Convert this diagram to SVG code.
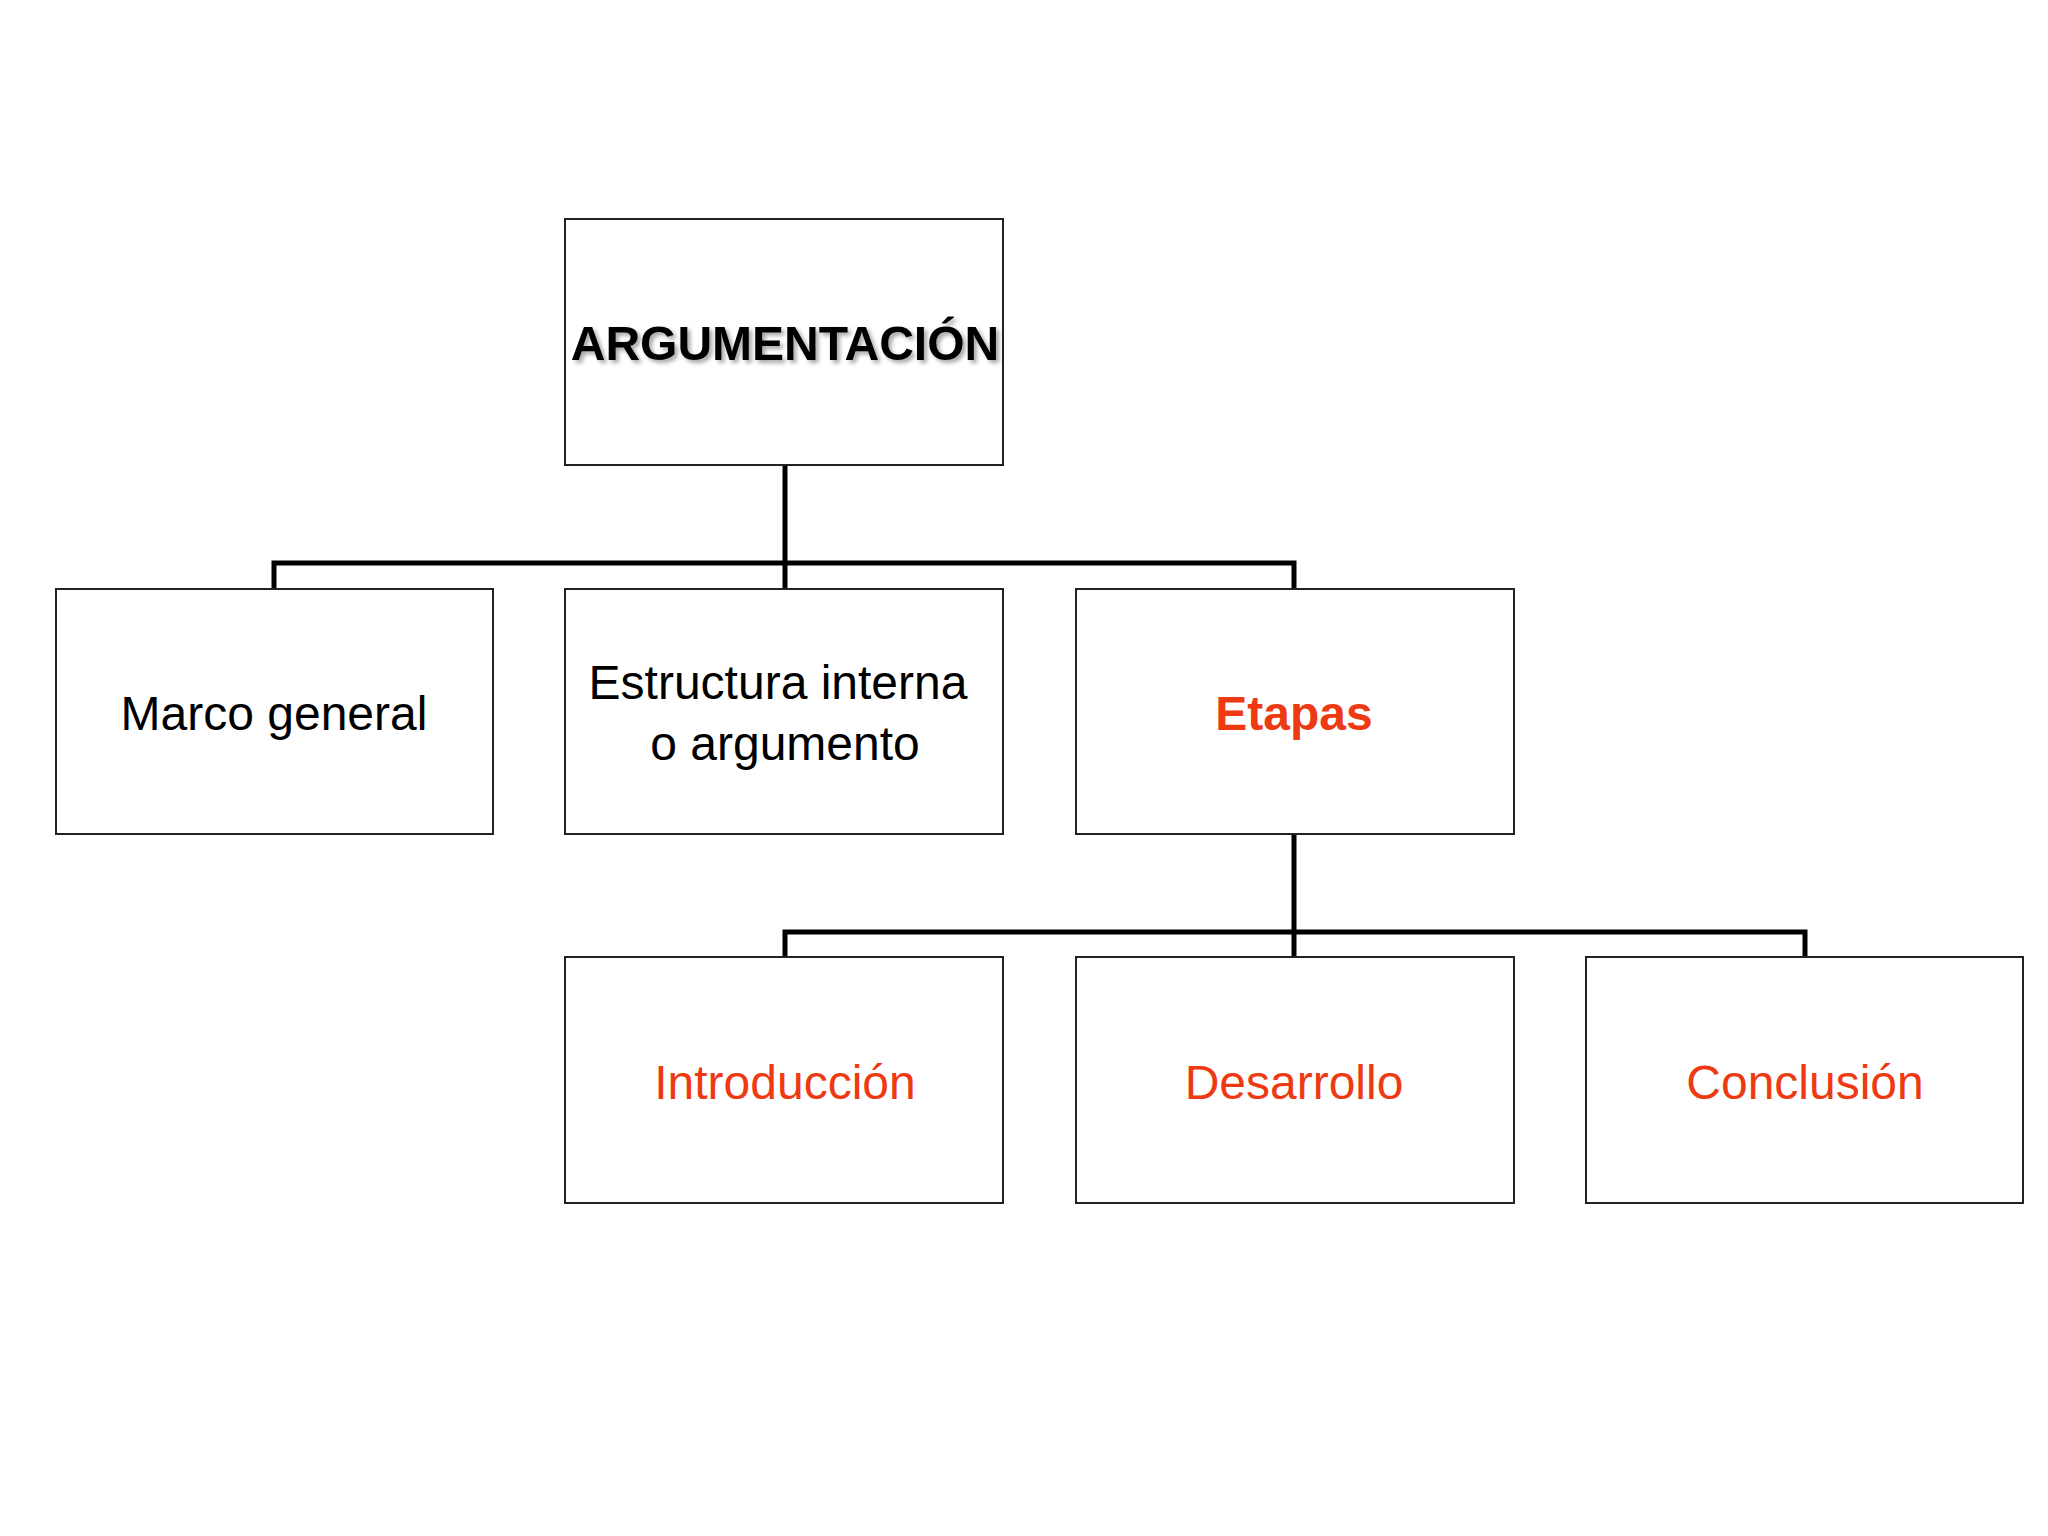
<svg xmlns="http://www.w3.org/2000/svg" width="2048" height="1536" viewBox="0 0 2048 1536">
<defs>
<style>
.box{fill:#fff;stroke:#222;stroke-width:2}
.t{font-family:"Liberation Sans",Arial,sans-serif;font-size:48px;text-anchor:middle;fill:#000}
.r{fill:#ee3a12}
.b{font-weight:bold}
.c{fill:none;stroke:#000;stroke-width:5}
</style>
<filter id="sh" x="-5%" y="-20%" width="110%" height="140%"><feDropShadow dx="3" dy="3" stdDeviation="2" flood-color="#000" flood-opacity="0.35"/></filter>
</defs>
<rect width="2048" height="1536" fill="#fff"/>
<g id="connectors">
<path class="c" d="M785 465V563M274 589V563H1294V589M785 563V589"/>
<path class="c" d="M1294 834V932M785 957V932H1805V957M1294 932V957"/>
</g>
<g id="root"><rect class="box" x="565" y="219" width="438" height="246"/><text class="t b" x="785" y="360" filter="url(#sh)">ARGUMENTACIÓN</text></g>
<g id="marco"><rect class="box" x="56" y="589" width="437" height="245"/><text class="t" x="274" y="730">Marco general</text></g>
<g id="estructura"><rect class="box" x="565" y="589" width="438" height="245"/><text class="t" x="778" y="699">Estructura interna</text><text class="t" x="785" y="760">o argumento</text></g>
<g id="etapas"><rect class="box" x="1076" y="589" width="438" height="245"/><text class="t b r" x="1294" y="730">Etapas</text></g>
<g id="intro"><rect class="box" x="565" y="957" width="438" height="246"/><text class="t r" x="785" y="1099">Introducción</text></g>
<g id="desarrollo"><rect class="box" x="1076" y="957" width="438" height="246"/><text class="t r" x="1294" y="1099">Desarrollo</text></g>
<g id="conclusion"><rect class="box" x="1586" y="957" width="437" height="246"/><text class="t r" x="1805" y="1099">Conclusión</text></g>
</svg>
